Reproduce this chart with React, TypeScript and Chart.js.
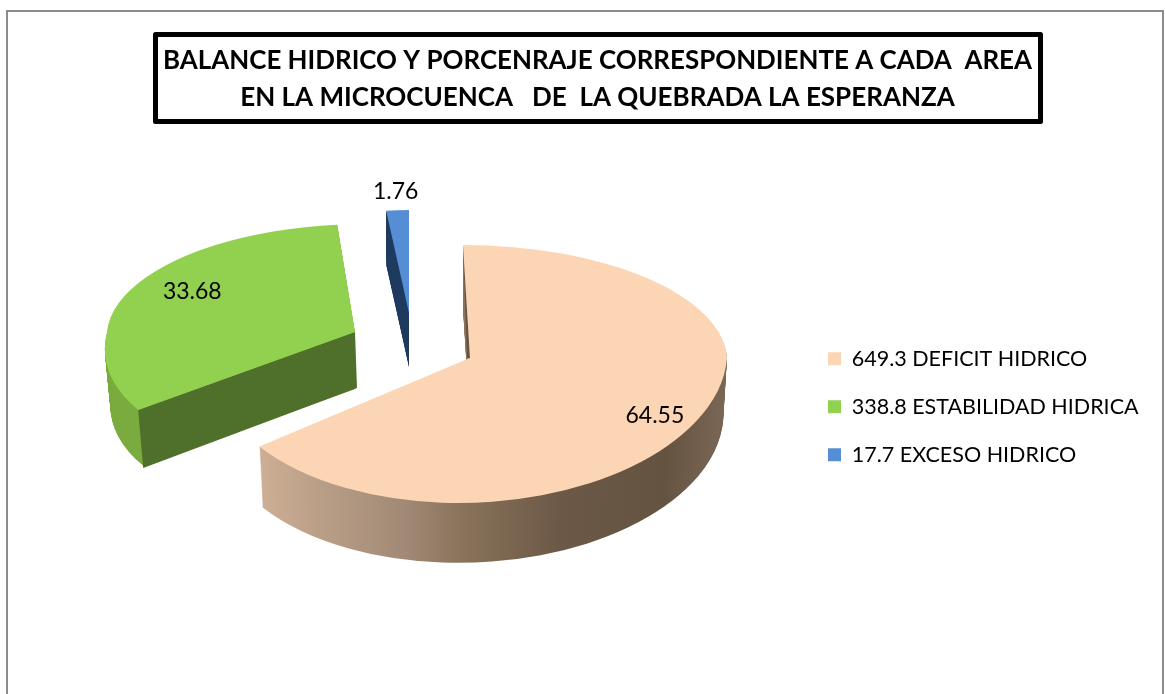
import React, { useEffect, useRef } from "react";
import { Chart, registerables } from "chart.js";

Chart.register(...registerables);

const FONT = "Lato";
const titleLines = [
  "BALANCE HIDRICO Y PORCENRAJE CORRESPONDIENTE A CADA  AREA",
  "EN LA MICROCUENCA   DE  LA QUEBRADA LA ESPERANZA",
];
const legendLabels = ["649.3 DEFICIT HIDRICO", "338.8 ESTABILIDAD HIDRICA", "17.7 EXCESO HIDRICO"];
const percentages = [64.55, 33.68, 1.76];
const topColors = ["#fcd5b5", "#92d050", "#558ed5"];
const wallColors = ["#a08975", "#7aab3e", "#1f3a5f"];
const faceColors = ["#675543", "#4f702b", "#1f3a5f"];

// How each exploded slice is projected on to the tilted plane.
const sliceViews = [
  { apex: [470, 358], rx: 257, up: 113, down: 145, shearUp: 0.062, shearDown: -0.08, depth: 62, shrink: 0.015, faceApex: [-3, 0], faceRim: [0, 0], labelAt: 0.82, labelDy: 5 },
  { apex: [355, 332], rx: 248, up: 108, down: 128, shearUp: -0.09, shearDown: -0.26, depth: 57, shrink: 0.023, faceApex: [2, 56], faceRim: [5, 58], labelAt: 0.725, labelDy: -10 },
  { apex: [409, 313], rx: 207, up: 103, down: 103, shearUp: 0, shearDown: 0, depth: 54, shrink: 0, faceApex: [0, 54], faceRim: [0, 47], labelAt: 1.17, labelDy: -1 },
];
const peachWallStops: [number, string][] = [
  [256, "#cfb196"],
  [417, "#a08975"],
  [483, "#867058"],
  [573, "#6b5846"],
  [673, "#655341"],
  [727, "#7a6654"],
];

function project(view: any, R: number, angle: number, frac: number) {
  const c = Math.cos(angle) * frac * R;
  const s = Math.sin(angle) * frac * R;
  const isUp = s < 0;
  const k = (isUp ? view.up : view.down) / R;
  const sh = isUp ? view.shearUp : view.shearDown;
  const y = s * k;
  return [view.apex[0] + c * (view.rx / R) + sh * y, view.apex[1] + y];
}

function drawSliceHalves(ctx: CanvasRenderingContext2D, arc: any, view: any, dy: number, scale: number, fill: any) {
  const R = arc.outerRadius;
  const opts = arc.options;
  arc.options = { ...opts, backgroundColor: fill, borderWidth: 0 };
  const splitY = view.apex[1] + dy;
  for (const isUp of [true, false]) {
    const k = (isUp ? view.up : view.down) / R;
    const sh = isUp ? view.shearUp : view.shearDown;
    ctx.save();
    ctx.beginPath();
    if (isUp) ctx.rect(0, 0, 1165, splitY + 0.5);
    else ctx.rect(0, splitY, 1165, 694);
    ctx.clip();
    ctx.translate(view.apex[0], splitY);
    ctx.transform((view.rx / R) * scale, 0, sh * k, k * scale, 0, 0);
    ctx.translate(-arc.x, -arc.y);
    arc.draw(ctx);
    ctx.restore();
  }
  arc.options = opts;
}

const tiltedPie = {
  id: "tiltedPie",
  beforeDatasetDraw(chart: any) {
    const ctx: CanvasRenderingContext2D = chart.ctx;
    const arcs = chart.getDatasetMeta(0).data;
    [2, 1, 0].forEach((i) => {
      const arc = arcs[i];
      const view = sliceViews[i];
      const R = arc.outerRadius;
      let wallFill: any = wallColors[i];
      if (i === 0) {
        const toLocal = (X: number) => arc.x + ((X - view.apex[0]) * R) / view.rx;
        const first = peachWallStops[0][0];
        const last = peachWallStops[peachWallStops.length - 1][0];
        const g = ctx.createLinearGradient(toLocal(first), 0, toLocal(last), 0);
        peachWallStops.forEach(([x, c]) => g.addColorStop((x - first) / (last - first), c));
        wallFill = g;
      }
      for (let d = view.depth; d >= 1; d--) {
        drawSliceHalves(ctx, arc, view, d, 1 - (view.shrink * d) / view.depth, wallFill);
      }
      const rim = project(view, R, arc.startAngle, 1);
      ctx.beginPath();
      ctx.moveTo(view.apex[0], view.apex[1]);
      ctx.lineTo(rim[0], rim[1]);
      ctx.lineTo(rim[0] + view.faceRim[0], rim[1] + view.faceRim[1]);
      ctx.lineTo(view.apex[0] + view.faceApex[0], view.apex[1] + view.faceApex[1]);
      ctx.closePath();
      ctx.fillStyle = faceColors[i];
      ctx.fill();
      drawSliceHalves(ctx, arc, view, 0, 1, topColors[i]);
    });
    return false;
  },
  afterDatasetsDraw(chart: any) {
    const ctx: CanvasRenderingContext2D = chart.ctx;
    const arcs = chart.getDatasetMeta(0).data;
    ctx.save();
    ctx.font = `23px ${FONT}`;
    ctx.fillStyle = "#000";
    ctx.textAlign = "center";
    ctx.textBaseline = "middle";
    arcs.forEach((arc: any, i: number) => {
      const view = sliceViews[i];
      const mid = (arc.startAngle + arc.endAngle) / 2;
      const p = project(view, arc.outerRadius, mid, view.labelAt);
      ctx.fillText(String(percentages[i]), p[0], p[1] + view.labelDy);
    });
    ctx.restore();
  },
};

const frameAndPlacement = {
  id: "frameAndPlacement",
  afterLayout(chart: any) {
    const t = chart.titleBlock;
    t.left = 163;
    t.right = 1032;
    t.top = 42;
    t.bottom = 122;
    const l = chart.legend;
    l.left = 828 - l.options.labels.padding;
    l.right = l.left + 340;
    l.top = 348 - l.options.labels.padding;
    l.bottom = 690;
  },
  beforeDraw(chart: any) {
    const ctx: CanvasRenderingContext2D = chart.ctx;
    ctx.save();
    ctx.fillStyle = "#fff";
    ctx.fillRect(0, 0, chart.width, chart.height);
    ctx.strokeStyle = "#8c8c8c";
    ctx.lineWidth = 2;
    ctx.strokeRect(7, 11, 1156, 800);
    ctx.strokeStyle = "#000";
    ctx.lineWidth = 5;
    ctx.lineJoin = "round";
    ctx.strokeRect(155.5, 34.5, 885, 87);
    ctx.restore();
  },
};

export default function App() {
  const ref = useRef<HTMLCanvasElement>(null);
  useEffect(() => {
    const chart = new Chart(ref.current!, {
      type: "pie",
      data: {
        labels: legendLabels,
        datasets: [{ data: percentages, backgroundColor: topColors, borderWidth: 0 }],
      },
      options: {
        responsive: false,
        animation: false,
        rotation: 0,
        plugins: {
          tooltip: { enabled: false },
          title: {
            display: true,
            text: titleLines,
            color: "#000",
            padding: 0,
            font: { family: FONT, size: 26, weight: "bold", lineHeight: 1.42 },
          },
          legend: {
            display: true,
            position: "right",
            align: "start",
            labels: {
              boxWidth: 13,
              boxHeight: 13,
              padding: 26.5,
              color: "#000",
              font: { family: FONT, size: 21.5 },
            },
          },
        },
      },
      plugins: [tiltedPie, frameAndPlacement],
    } as any);
    return () => chart.destroy();
  }, []);
  return (
    <div style={{ position: "absolute", left: 0, top: 0, width: 1165, height: 694, overflow: "hidden" }}>
      <canvas ref={ref} width={1165} height={694} style={{ display: "block" }} />
    </div>
  );
}
